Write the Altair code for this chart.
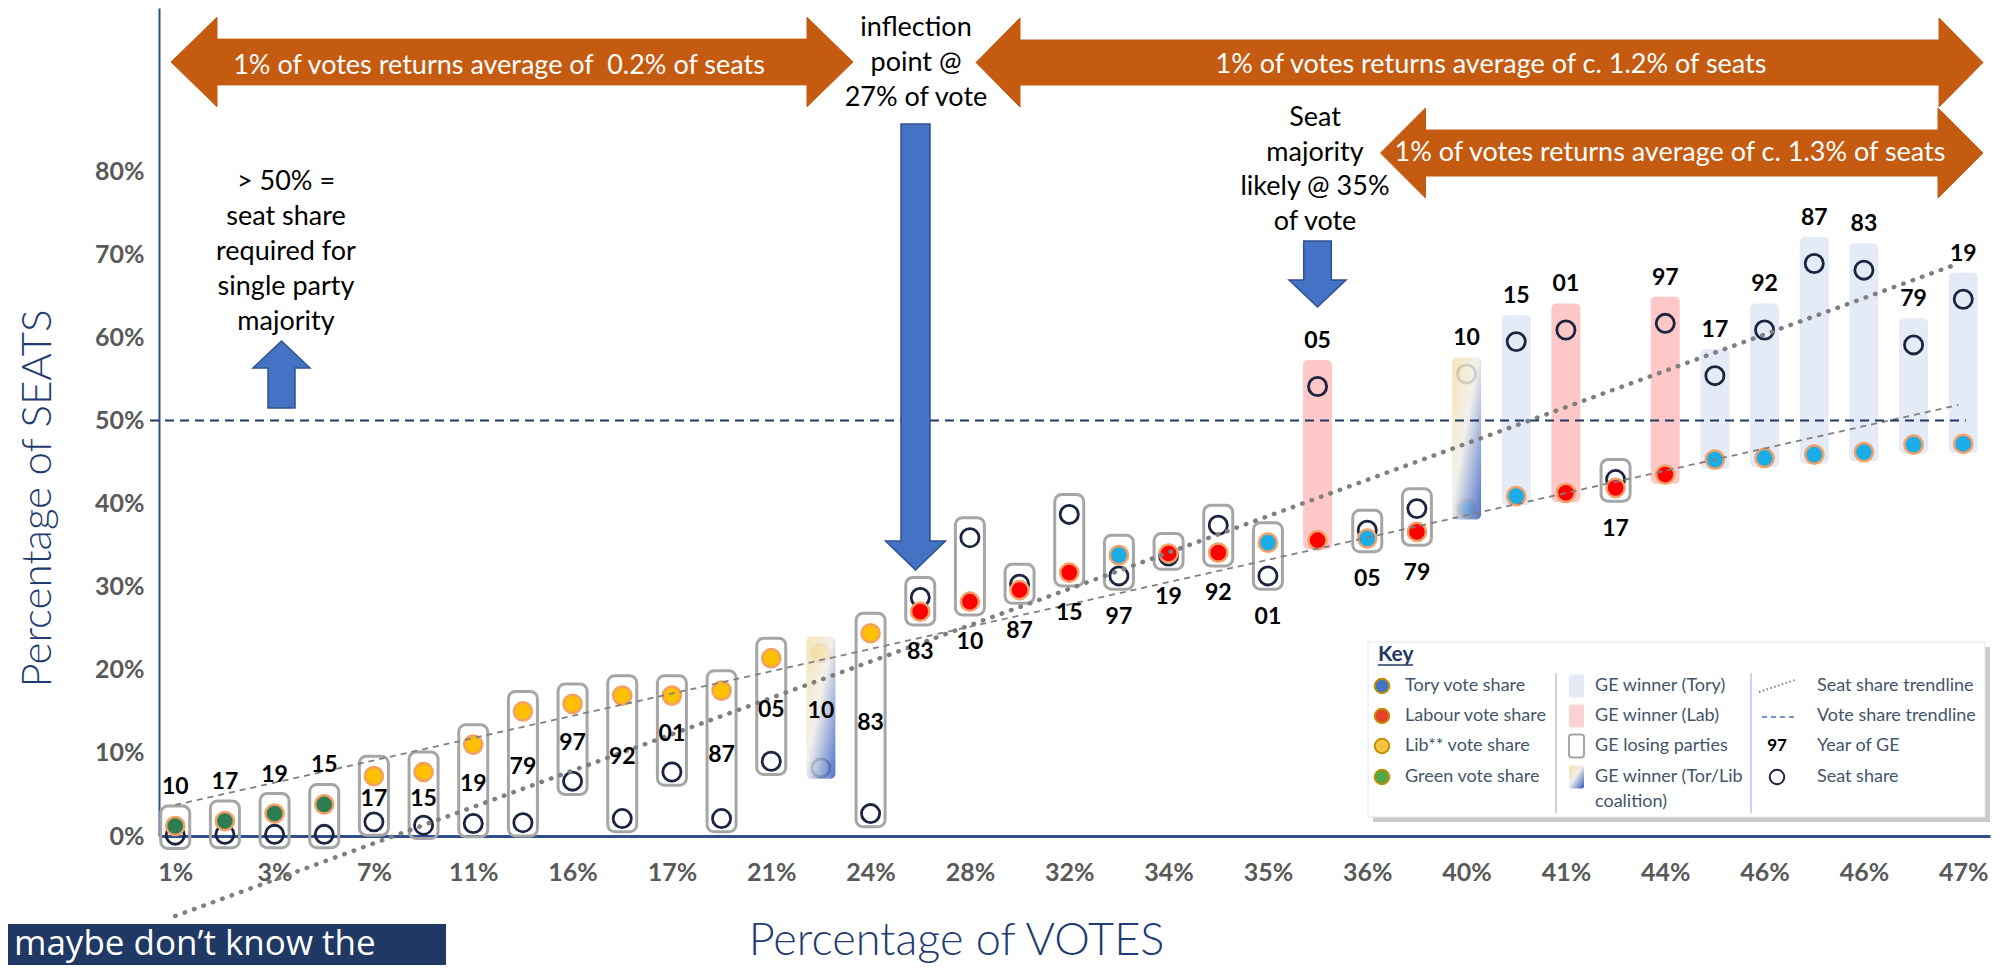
import altair as alt
import pandas as pd

# ---------------- data ----------------
years = ["10", "17", "19", "15", "17", "15", "19", "79", "97", "92", "01", "87", "05", "10", "83",
         "83", "10", "87", "15", "97", "19", "92", "01", "05", "05", "79",
         "10", "15", "01", "17", "97", "17", "92", "87", "83", "79", "19"]
parties = (["Green"] * 4 + ["Lib"] * 11 +
           ["Lab", "Lab", "Lab", "Lab", "Con", "Lab", "Lab", "Con", "Lab", "Con", "Lab",
            "Con", "Con", "Lab", "Lab", "Lab", "Con", "Con", "Con", "Con", "Con", "Con"])
outcomes = (["lost"] * 13 + ["coalition", "lost"] + ["lost"] * 8 + ["winner", "lost", "lost"] +
            ["coalition", "winner", "winner", "lost", "winner", "winner", "winner", "winner",
             "winner", "winner", "winner"])
vote_share = [1.2, 1.8, 2.7, 3.8, 7.2, 7.7, 11.0, 15.0, 15.9, 16.9, 16.9, 17.5, 21.4, 22.0, 24.4,
              27.0, 28.2, 29.6, 31.7, 33.8, 34.0, 34.1, 35.3, 35.6, 35.8, 36.6,
              39.4, 40.9, 41.3, 41.9, 43.5, 45.3, 45.5, 45.9, 46.2, 47.1, 47.2]
seat_share = [0.1, 0.2, 0.2, 0.2, 1.7, 1.3, 1.5, 1.6, 6.6, 2.1, 7.7, 2.1, 9.0, 8.2, 2.7,
              28.7, 35.9, 30.3, 38.7, 31.3, 33.7, 37.4, 31.3, 54.1, 36.8, 39.4,
              55.6, 59.5, 60.9, 42.9, 61.7, 55.4, 60.9, 68.9, 68.1, 59.1, 64.6]
label_place = (["above"] * 4 + ["inside"] * 11 + ["below"] * 8 + ["above", "below", "below"] +
               ["above", "above", "above", "below"] + ["above"] * 7)
x_tick_labels = ["1%", "3%", "7%", "11%", "16%", "17%", "21%", "24%", "28%", "32%",
                 "34%", "35%", "36%", "40%", "41%", "44%", "46%", "46%", "47%"]
y_tick_values = [0, 10, 20, 30, 40, 50, 60, 70, 80]

# ---------------- style constants ----------------
PAD = {"lost": (1.6, 2.4), "winner": (1.1, 3.2), "coalition": (1.3, 2.0)}
FONT = "Lato"
OX, OY = 159, 8  # plot origin on the page

rows = []
for i, (yr, p, o, v, s, lp) in enumerate(zip(years, parties, outcomes, vote_share, seat_share, label_place), start=1):
    lo = min(v, s) - PAD[o][0]
    hi = max(v, s) + PAD[o][1]
    if lp == "above":
        ly = hi + 2.3
    elif lp == "inside":
        ly = (v + s) / 2
    else:
        ly = lo - 3.3
    rows.append(dict(idx=i, year=yr, party=p, outcome=o, vote=v, seat=s, lo=lo, hi=hi, ly=ly))
df = pd.DataFrame(rows)

arr = "[" + ",".join("'%s'" % t for t in x_tick_labels) + "]"
xscale = alt.Scale(domain=[0.7737, 37.438], nice=False, zero=False)
yscale = alt.Scale(domain=[0, 99.65], nice=False, zero=False)
xaxis = alt.Axis(orient="bottom", title="Percentage of VOTES", values=list(range(1, 38, 2)),
                 labelExpr=arr + "[floor((datum.value-1)/2)]",
                 labelFont=FONT, labelFontSize=25, labelFontWeight="bold", labelColor="#595959",
                 labelBaseline="middle", labelPadding=36, labelOverlap=False, labelFlush=False,
                 ticks=False, tickSize=0, grid=False, domainColor="#2F4E8C", domainWidth=3,
                 titleFont=FONT, titleFontSize=45, titleFontWeight=300, titleColor="#1F3B70",
                 titleX=797, titleY=104, titleAlign="center", titleBaseline="middle")
yaxis = alt.Axis(orient="left", title="Percentage of SEATS", values=y_tick_values, labelExpr="datum.value + '%'",
                 labelFont=FONT, labelFontSize=25, labelFontWeight="bold", labelColor="#595959",
                 labelPadding=15, labelOverlap=False, ticks=False, tickSize=0, grid=False,
                 domainColor="#2F4E8C", domainWidth=2,
                 titleFont=FONT, titleFontSize=42, titleFontWeight=300, titleColor="#1F3B70",
                 titleX=-122, titleY=490, titleAngle=-90, titleAlign="center", titleBaseline="middle")


def X():
    return alt.X("idx:Q", scale=xscale, axis=xaxis)


def Y(field):
    return alt.Y(field + ":Q", scale=yscale, axis=yaxis)


base = alt.Chart(df)

win_con = base.transform_filter("datum.outcome == 'winner' && datum.party == 'Con'").mark_bar(
    size=29, color="#E4EAF6", cornerRadius=5, orient="vertical").encode(x=X(), y=Y("lo"), y2="hi:Q")
win_lab = base.transform_filter("datum.outcome == 'winner' && datum.party == 'Lab'").mark_bar(
    size=29, color="#FFC7C7", cornerRadius=5, orient="vertical").encode(x=X(), y=Y("lo"), y2="hi:Q")
lost = base.transform_filter("datum.outcome == 'lost'").mark_bar(
    size=29, color="white", fillOpacity=0, stroke="#A6A6A6", strokeWidth=3, cornerRadius=7,
    orient="vertical").encode(x=X(), y=Y("lo"), y2="hi:Q")
seat_pts = base.mark_point(filled=False, size=330, strokeWidth=2.8, color="#1B2540", opacity=1).encode(
    x=X(), y=Y("seat"))
vote_pts = base.mark_point(filled=True, size=330, stroke="#F2A065", strokeWidth=2.5, opacity=1).encode(
    x=X(), y=Y("vote"),
    color=alt.Color("party:N", scale=alt.Scale(domain=["Con", "Lab", "Lib", "Green"],
                                               range=["#1CADE8", "#FF0000", "#FFC000", "#2E7D52"]),
                    legend=None))
grad = {"gradient": "linear", "x1": 0, "y1": 0, "x2": 1, "y2": 1,
        "stops": [{"offset": 0, "color": "#F2E0A8"}, {"offset": 0.45, "color": "#F1EEE8"},
                  {"offset": 1, "color": "#2F5BC0"}]}
coal = base.transform_filter("datum.outcome == 'coalition'").mark_bar(
    size=29, color=grad, cornerRadius=5, opacity=0.85, orient="vertical").encode(x=X(), y=Y("lo"), y2="hi:Q")

seat_trend = base.transform_regression("idx", "seat", extent=[1, 36.9]).mark_line(
    color="#7F7F7F", strokeWidth=4.5, strokeDash=[0.5, 9.5], strokeCap="round").encode(x=X(), y=Y("seat"))
vote_trend = base.transform_regression("idx", "vote", extent=[1, 36.9]).mark_line(
    color="#808080", strokeWidth=1.8, strokeDash=[6, 5]).encode(x=X(), y=Y("vote"))

one = pd.DataFrame({"k": [1]})
half = alt.Chart(one).mark_rule(color="#1F3864", strokeWidth=2, strokeDash=[9, 6]).encode(
    y=alt.datum(50, scale=yscale, axis=yaxis), x=alt.value(150 - OX), x2=alt.value(1966 - OX))

year_lbl = base.mark_text(font=FONT, fontWeight="bold", fontSize=23, color="black", baseline="middle").encode(
    x=X(), y=Y("ly"), text="year:N")


# ---------------- annotation helpers (page pixel coordinates) ----------------
def txt(x, y, s, size, color="black", weight="normal", align="center", baseline="middle", font=FONT):
    return alt.Chart(one).mark_text(text=s, fontSize=size, color=color, fontWeight=weight, align=align,
                                    baseline=baseline, font=font).encode(
        x=alt.value(x - OX), y=alt.value(y - OY))


def shape(x, y, path, fill, stroke, sw=1.5):
    return alt.Chart(one).mark_point(shape=path, size=4, filled=True, fill=fill, stroke=stroke,
                                     strokeWidth=sw, opacity=1).encode(
        x=alt.value(x - OX), y=alt.value(y - OY))


def dot(x, y, size, fill, stroke, sw):
    return alt.Chart(one).mark_point(shape="circle", size=size, filled=True, fill=fill, stroke=stroke,
                                     strokeWidth=sw, opacity=1).encode(
        x=alt.value(x - OX), y=alt.value(y - OY))


def rect(x1, y1, x2, y2, **kw):
    return alt.Chart(one).mark_rect(**kw).encode(
        x=alt.value(x1 - OX), x2=alt.value(x2 - OX), y=alt.value(y1 - OY), y2=alt.value(y2 - OY))


def rule(x1, y1, x2, y2, **kw):
    return alt.Chart(one).mark_rule(**kw).encode(
        x=alt.value(x1 - OX), x2=alt.value(x2 - OX), y=alt.value(y1 - OY), y2=alt.value(y2 - OY))


def dbl(L, H, A, S):
    return (f"M{-L},0 L{-L + H},{-A} L{-L + H},{-S} L{L - H},{-S} L{L - H},{-A} L{L},0 "
            f"L{L - H},{A} L{L - H},{S} L{-L + H},{S} L{-L + H},{A} Z")


def down(S, A, Lb, Lt):
    return f"M{-S},0 L{S},0 L{S},{Lb} L{A},{Lb} L0,{Lt} L{-A},{Lb} L{-S},{Lb} Z"


def up(S, A, Hb, Lb):
    return f"M0,0 L{A},{Hb} L{S},{Hb} L{S},{Lb} L{-S},{Lb} L{-S},{Hb} L{-A},{Hb} Z"


ORANGE = "#C55A11"
BLUE = "#4472C4"
ann = [
    shape(512, 62, dbl(341, 46, 44.7, 22.9), ORANGE, ORANGE, 1),
    shape(1479.5, 62.5, dbl(503.5, 44, 44.5, 22.5), ORANGE, ORANGE, 1),
    shape(1681.75, 153, dbl(301.25, 45, 45, 23), ORANGE, ORANGE, 1),
    txt(499, 66, "1% of votes returns average of \u00a00.2% of seats", 27, "white"),
    txt(1491, 65, "1% of votes returns average of c. 1.2% of seats", 27, "white"),
    txt(1670, 153, "1% of votes returns average of c. 1.3% of seats", 27, "white"),
    shape(915.5, 124, down(14.5, 30, 417, 446), BLUE, "#2F528F"),
    shape(1317.5, 241, down(13.8, 28.5, 39, 66), BLUE, "#2F528F"),
    shape(281.5, 341, up(13.5, 28.5, 27, 67), BLUE, "#2F528F"),
]
for i, s in enumerate(["inflection", "point @", "27% of vote"]):
    ann.append(txt(916, 28 + 35 * i, s, 27))
for i, s in enumerate(["Seat", "majority", "likely @ 35%", "of vote"]):
    ann.append(txt(1315, 118 + 34.5 * i, s, 27))
for i, s in enumerate(["> 50% =", "seat share", "required for", "single party", "majority"]):
    ann.append(txt(286, 182 + 35 * i, s, 27))

# ---------------- key box ----------------
KEYTXT = "#44546A"
rows_y = [686, 716, 746, 777]
ann += [
    rect(1373, 647, 1990, 822, color="#9E9E9E", opacity=0.55),
    rect(1368, 642, 1985, 817, color="white", stroke="#E3E3E3", strokeWidth=1),
    txt(1378, 655, "Key", 21, "#1F3864", "bold", "left"),
    rule(1378, 665, 1413, 665, color="#1F3864", strokeWidth=1.5),
    rule(1556, 673, 1556, 813, color="#8FAADC", strokeWidth=1),
    rule(1751, 673, 1751, 813, color="#8FAADC", strokeWidth=1),
]
key_fill = ["#4472C4", "#E8412C", "#F5C342", "#4EA84A"]
key_text1 = ["Tory vote share", "Labour vote share", "Lib** vote share", "Green vote share"]
for yy, f, t in zip(rows_y, key_fill, key_text1):
    ann.append(dot(1382, yy, 210, f, "#BF9000", 2))
    ann.append(txt(1405, yy, t, 18, KEYTXT, "normal", "left"))
ann += [
    rect(1569, rows_y[0] - 11.5, 1584, rows_y[0] + 11.5, color="#E4EAF6", cornerRadius=2),
    rect(1569, rows_y[1] - 11.5, 1584, rows_y[1] + 11.5, color="#FBD3D3", cornerRadius=2),
    rect(1569, rows_y[2] - 11.5, 1584, rows_y[2] + 11.5, color="white", stroke="#A6A6A6", strokeWidth=2,
         cornerRadius=3),
    rect(1569, rows_y[3] - 11.5, 1584, rows_y[3] + 11.5, color=grad, cornerRadius=2),
]
key_text2 = ["GE winner (Tory)", "GE winner (Lab)", "GE losing parties", "GE winner (Tor/Lib"]
for yy, t in zip(rows_y, key_text2):
    ann.append(txt(1595, yy, t, 18, KEYTXT, "normal", "left"))
ann.append(txt(1595, 802, "coalition)", 18, KEYTXT, "normal", "left"))
ann += [
    rule(1759, 692, 1795, 680, color="#7F7F7F", strokeWidth=2, strokeDash=[1.5, 2.5]),
    rule(1762, 717, 1794, 717, color="#4472C4", strokeWidth=1.5, strokeDash=[5, 4]),
    txt(1777, 746, "97", 17, "black", "bold"),
    alt.Chart(one).mark_point(filled=False, size=210, strokeWidth=2, color="#1B2540", opacity=1).encode(
        x=alt.value(1777 - OX), y=alt.value(777 - OY)),
]
key_text3 = ["Seat share trendline", "Vote share trendline", "Year of GE", "Seat share"]
for yy, t in zip(rows_y, key_text3):
    ann.append(txt(1817, yy, t, 18, KEYTXT, "normal", "left"))

# ---------------- cropped slide banner, bottom left ----------------
ann += [
    rect(0, 924, 446, 990, color="#203864"),
    txt(14, 955, "maybe don\u2019t know the", 35, "white", "normal", "left", "alphabetic", "Open Sans"),
]

chart = alt.layer(
    win_con, win_lab, lost, seat_pts, vote_pts, coal, seat_trend, vote_trend, half, year_lbl, *ann
).properties(
    width=1831, height=828,
    padding={"left": 151, "top": 0, "right": 8, "bottom": 129},
    autosize=alt.AutoSizeParams(type="none"),
    background="white",
).configure_view(strokeWidth=0)

chart.save("out.html", embed_options={"renderer": "svg", "actions": False})
